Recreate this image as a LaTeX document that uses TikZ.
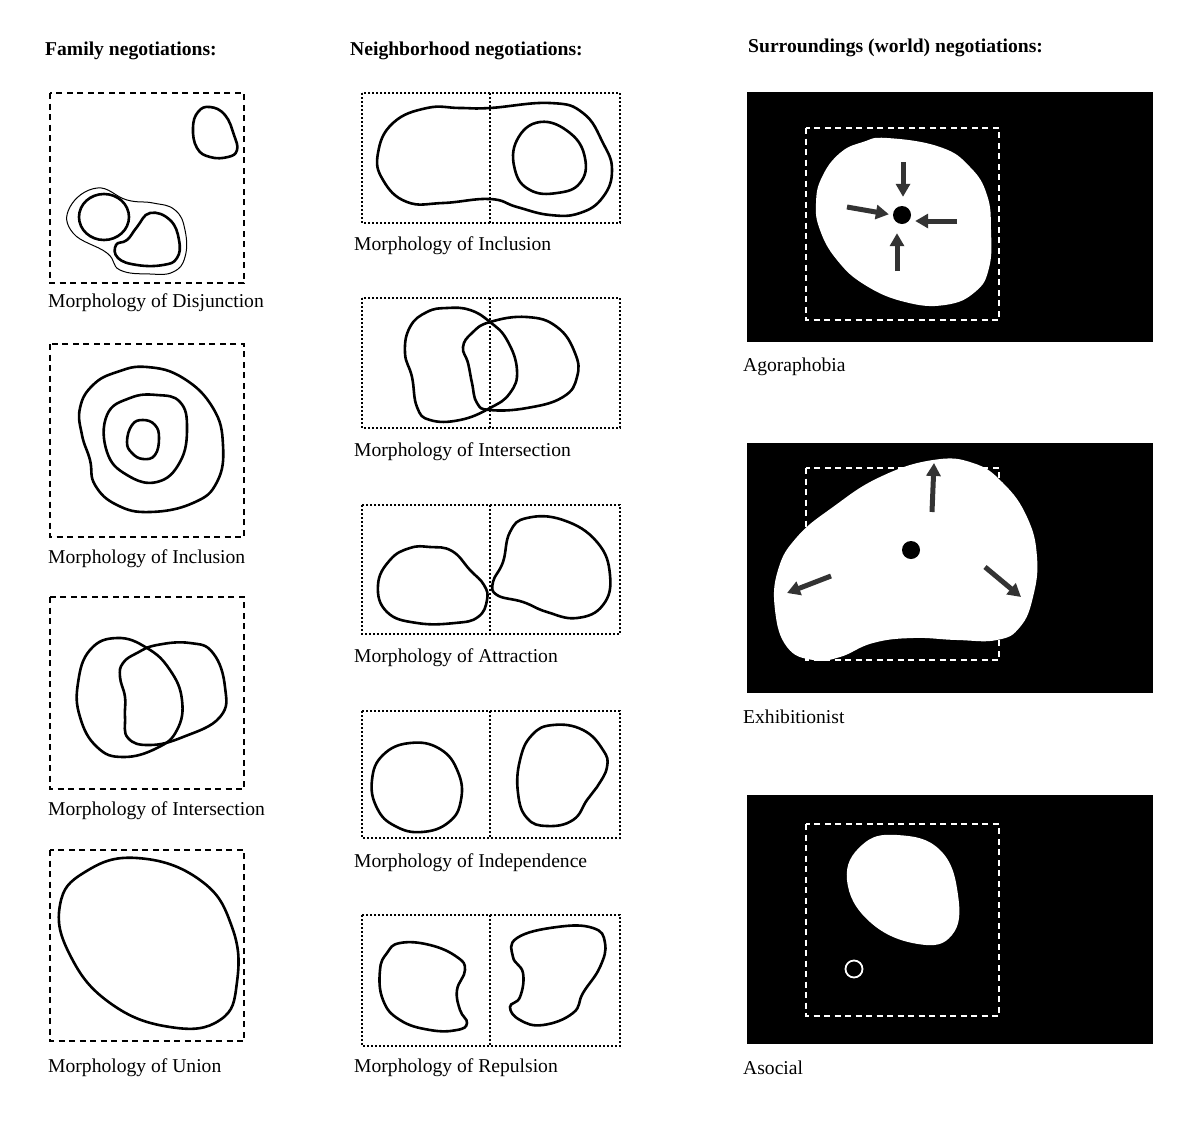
\documentclass[tikz,border=0pt]{standalone}
\usepackage{fontspec}
\setmainfont{Liberation Serif}
\usetikzlibrary{arrows.meta}

\begin{document}
\begin{tikzpicture}[x=1pt,y=-1pt]
\tikzset{cadre/.style={line width=2pt,dash pattern=on 6pt off 4.5pt},
pointille/.style={line width=1.6pt,dash pattern=on 2pt off 2pt},
forme/.style={line width=2.6pt,smooth cycle,tension=0.75},
fine/.style={line width=1pt,smooth cycle,tension=0.75},
blanc/.style={fill=white,smooth cycle,tension=0.75},
fleche/.style={-{Triangle[length=13pt,width=14pt]},line width=5pt,draw=black!80},
legende/.style={anchor=base west,inner sep=0pt,font=\fontsize{19.6}{23}\selectfont},
titre/.style={legende,font=\fontsize{19.6}{23}\selectfont\bfseries},
point/.style={circle,fill=black,minimum size=18pt,inner sep=0pt}}
\useasboundingbox (0,0) rectangle (1200,1133);

% titres
\node[titre] (tFam) at (45,55) {Family negotiations:};
\node[titre] (tVoi) at (350,55) {Neighborhood negotiations:};
\node[titre] (tMon) at (748,52) {Surroundings (world) negotiations:};

% famille
\draw[cadre] (50,93) rectangle (244,283);
\draw[forme] plot coordinates {(210,107) (225,115) (234,135) (237,150) (228,157) (210,157) (197,148) (193,128) (198,112)};
\draw[line width=2.6pt] (104,217) ellipse (25 and 23);
\draw[forme] plot coordinates {(150,213) (170,220) (179,240) (177,258) (163,265) (137,265) (118,258) (116,245) (127,240) (137,227)};
\draw[fine] plot coordinates {(97,188) (70,207) (73,233) (107,253) (120,270) (150,274) (173,272) (185,257) (185,230) (175,210) (153,203) (127,200)};
\node[legende] (lDis) at (48,307) {Morphology of Disjunction};

\draw[cadre] (50,344) rectangle (244,537);
\draw[forme] plot coordinates {(147,367) (183,378) (213,408) (223,445) (217,482) (193,503) (150,512) (117,505) (95,485) (90,460) (82,435) (80,408) (93,385) (117,372)};
\draw[forme] plot coordinates {(157,395) (180,402) (187,428) (180,462) (157,482) (127,475) (107,452) (107,415) (130,398)};
\draw[forme] plot coordinates {(143,420) (155,425) (159,438) (155,455) (143,459) (132,453) (127,442) (132,425)};
\node[legende] (lInc) at (48,563) {Morphology of Inclusion};

\draw[cadre] (50,597) rectangle (244,789);
\draw[forme] plot coordinates {(117,638) (147,648) (170,670) (182,700) (177,730) (157,748) (123,757) (97,747) (80,717) (78,683) (90,650)};
\draw[forme] plot coordinates {(157,645) (190,643) (213,653) (225,687) (220,717) (183,737) (150,745) (128,738) (125,717) (125,697) (120,677) (123,663) (137,653)};
\node[legende] (lInt) at (48,815) {Morphology of Intersection};

\draw[cadre] (50,850) rectangle (244,1041);
\draw[forme] plot coordinates {(137,858) (200,880) (232,927) (237,982) (220,1020) (170,1027) (110,1003) (70,955) (60,905) (85,872)};
\node[legende] (lUni) at (48,1072) {Morphology of Union};

% voisinage
\draw[pointille] (362,93) rectangle (620,223) (490,93) -- (490,223);
\draw[forme] plot coordinates {(490,108) (550,103) (583,113) (603,143) (612,170) (603,197) (580,213) (550,215) (517,207) (490,199) (443,203) (407,202) (383,180) (378,153) (393,123) (427,108) (460,108)};
\draw[forme] plot coordinates {(540,122) (570,133) (585,158) (580,183) (557,193) (530,190) (515,170) (517,140)};
\node[legende] (lVInc) at (354,250) {Morphology of Inclusion};

\draw[pointille] (362,298) rectangle (620,428) (490,298) -- (490,428);
\draw[forme] plot coordinates {(447,308) (470,310) (490,322) (507,340) (517,370) (510,393) (490,408) (460,420) (430,420) (417,407) (412,377) (405,353) (410,327) (427,312)};
\draw[forme] plot coordinates {(490,322) (527,317) (557,327) (575,353) (577,377) (563,397) (527,408) (490,410) (477,403) (472,383) (468,363) (463,347) (472,333)};
\node[legende] (lVInt) at (354,456) {Morphology of Intersection};

\draw[pointille] (362,505) rectangle (620,634) (490,505) -- (490,634);
\draw[forme] plot coordinates {(430,547) (452,551) (470,570) (484,585) (487,600) (478,617) (455,623) (417,623) (387,612) (378,585) (390,560) (410,548)};
\draw[forme] plot coordinates {(527,518) (563,520) (597,542) (610,575) (603,605) (577,618) (547,612) (523,602) (497,595) (493,582) (503,562) (510,532)};
\node[legende] (lVAtt) at (354,662) {Morphology of Attraction};

\draw[pointille] (362,711) rectangle (620,838) (490,711) -- (490,838);
\draw[forme] plot coordinates {(410,743) (440,749) (458,772) (461,800) (449,822) (422,832) (395,826) (377,808) (372,780) (383,755)};
\draw[forme] plot coordinates {(553,725) (583,730) (603,750) (607,767) (597,787) (587,800) (573,820) (547,826) (527,818) (518,793) (520,760) (532,735)};
\node[legende] (lVInd) at (354,867) {Morphology of Independence};

\draw[pointille] (362,915) rectangle (620,1046) (490,915) -- (490,1046);
\draw[forme] plot coordinates {(400,943) (430,945) (457,957) (465,970) (457,990) (460,1010) (467,1023) (457,1030) (430,1030) (400,1020) (383,1000) (380,970) (387,953)};
\draw[forme] plot coordinates {(517,938) (557,927) (593,928) (605,943) (600,967) (583,993) (573,1013) (543,1025) (520,1020) (510,1007) (520,997) (523,973) (513,957)};
\node[legende] (lVRep) at (354,1072) {Morphology of Repulsion};

% monde
\fill[black] (747,92) rectangle (1153,342);
\draw[cadre,white] (806,128) rectangle (999,320);
\fill[blanc] plot coordinates {(887,138) (940,147) (970,167) (987,195) (991,230) (989,268) (975,292) (945,305) (905,302) (865,285) (837,260) (820,230) (816,203) (822,177) (840,153) (863,142)};
\node[point] (cAgo) at (902,215) {};
\coordinate (aN) at (903,162);
\coordinate (aO) at (847,207);
\coordinate (aE) at (957,221);
\coordinate (aS) at (897,271);
\draw[fleche,shorten >=9pt] (aN) -- (aN |- cAgo.north);
\draw[fleche,shorten >=4pt] (aO) -- (cAgo.west);
\draw[fleche,shorten >=4pt] (aE) -- (aE -| cAgo.east);
\draw[fleche,shorten >=9pt] (aS) -- (aS |- cAgo.south);
\node[legende] (lAgo) at (743,371) {Agoraphobia};

\fill[black] (747,443) rectangle (1153,693);
\draw[cadre,white] (806,468) rectangle (999,660);
\fill[blanc] plot coordinates {(933,460) (973,463) (1003,483) (1027,517) (1037,557) (1033,597) (1020,627) (997,640) (957,640) (913,638) (873,643) (840,657) (813,660) (787,647) (775,610) (778,570) (797,537) (833,507) (880,477)};
\node[point] (cExh) at (911,550) {};
\coordinate (eN1) at (932,512);
\coordinate (eN2) at (934,463);
\coordinate (eO1) at (831,576);
\coordinate (eO2) at (787,593);
\coordinate (eE1) at (985,567);
\coordinate (eE2) at (1021,597);
\draw[fleche] (eN1) -- (eN2);
\draw[fleche] (eO1) -- (eO2);
\draw[fleche] (eE1) -- (eE2);
\node[legende] (lExh) at (743,723) {Exhibitionist};

\fill[black] (747,795) rectangle (1153,1044);
\draw[cadre,white] (806,824) rectangle (999,1016);
\fill[blanc] plot coordinates {(897,835) (940,850) (958,895) (952,935) (918,944) (870,922) (847,880) (862,845)};
\node[circle,draw=white,line width=1.8pt,minimum size=17pt,inner sep=0pt] (cAso) at (854,969) {};
\node[legende] (lAso) at (743,1074) {Asocial};
\end{tikzpicture}
\end{document}
